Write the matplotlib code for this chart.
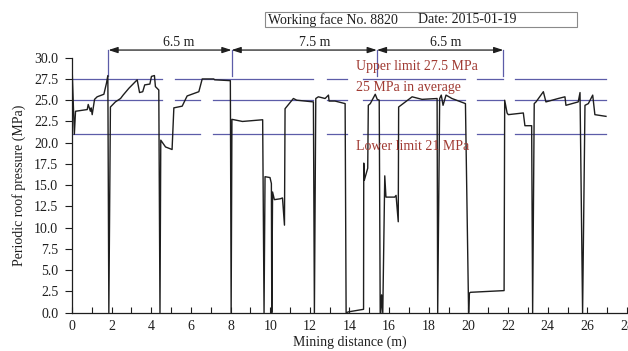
import matplotlib
matplotlib.use("Agg")
import matplotlib.pyplot as plt
from matplotlib.patches import Rectangle

plt.rcParams['font.family'] = ['Liberation Serif', 'DejaVu Serif']
plt.rcParams['font.size'] = 10

# periodic roof pressure trace
distance = [0.01, 0.12, 0.18, 0.77, 0.82, 0.93, 0.97, 1.02, 1.14, 1.27, 1.61, 1.74, 1.81, 1.86,
            1.94, 2.19, 2.45, 2.58, 2.87, 3.29, 3.41, 3.57, 3.67, 3.93, 4.01, 4.16, 4.21, 4.38, 4.44,
            4.48, 4.72, 5.05, 5.14, 5.56, 5.81, 6.40, 6.57, 7.15, 7.20, 7.99, 8.03,
            8.07, 8.60, 9.62, 9.69, 9.74, 9.99, 10.06, 10.08, 10.12, 10.21, 10.50, 10.62, 10.72,
            10.75, 11.17, 11.34, 12.18, 12.23, 12.30, 12.43, 12.77, 12.94, 12.97, 13.27, 13.78, 13.83,
            13.95, 14.71, 14.72, 14.75, 14.92, 14.95, 15.05, 15.30, 15.40, 15.50, 15.55,
            15.58, 15.62, 15.68, 15.78, 15.84, 16.28, 16.35, 16.46, 16.48, 17.16, 17.66, 18.42, 18.45,
            18.55, 18.63, 18.72, 18.87, 19.17, 19.85, 20.01, 20.05, 20.10, 21.80, 21.83,
            21.95, 22.01, 22.77, 22.85, 23.19, 23.24, 23.32, 23.41, 23.78, 23.91, 24.53, 24.87,
            24.92, 25.54, 25.63, 25.76, 25.88, 26.05, 26.27, 26.38, 26.94]
pressure = [28.5, 21.0, 23.7, 23.9, 24.5, 23.7, 24.1, 23.3, 25.1, 25.4, 25.7, 27.0, 27.9, 0.0,
            24.2, 24.8, 25.2, 25.6, 26.4, 27.4, 25.9, 26.0, 26.8, 26.9, 27.8, 27.9, 26.6, 26.2, 0.0,
            20.3, 19.5, 19.2, 24.1, 24.3, 25.5, 26.0, 27.5, 27.5, 27.4, 27.3, 0.0,
            22.75, 22.5, 22.7, 0.0, 16.0, 15.9, 15.2, 0.0, 14.2, 13.3, 13.4, 13.5, 10.3,
            24.0, 25.2, 25.0, 24.8, 0.0, 25.2, 25.4, 25.2, 25.6, 24.9, 24.9, 24.6, 0.0,
            0.1, 0.4, 17.6, 15.6, 17.0, 24.4, 24.6, 25.7, 25.1, 25.0, 0.0,
            0.0, 2.1, 0.0, 16.1, 13.6, 13.6, 13.8, 10.7, 24.2, 25.4, 25.1, 25.2, 0.0,
            25.2, 25.6, 24.4, 25.6, 25.2, 24.6, 0.0, 2.3, 2.4, 2.6, 25.0,
            23.5, 23.3, 23.5, 22.0, 22.0, 0.0, 24.6, 24.8, 26.0, 24.8, 25.2, 25.4,
            24.4, 24.8, 25.9, 0.0, 24.4, 24.6, 25.6, 23.3, 23.1]

# reference levels (MPa) and the stretches where each dashed line is drawn
upper_limit = 27.5
average = 25.0
lower_limit = 21.0
upper_spans = [(0.0, 4.55), (5.2, 12.16), (12.87, 13.9), (14.69, 19.83), (20.43, 21.75), (22.35, 26.94)]
average_spans = [(0.0, 4.55), (5.2, 6.46), (7.12, 12.16), (12.87, 13.9), (14.69, 19.83),
                 (20.43, 21.75), (22.35, 26.94)]
lower_spans = [(0.0, 6.46), (7.12, 12.16), (12.87, 13.9), (14.69, 19.83), (20.43, 21.75), (22.35, 26.94)]

# periodic weighting steps
step_edges = [1.84, 8.05, 15.38, 21.76]
step_labels = ['6.5 m', '7.5 m', '6.5 m']
step_label_x = [5.36, 12.26, 18.87]

blue = '#5c5ca8'
red = '#a03a32'
ink = '#1e1e1e'

fig = plt.figure(figsize=(6.28, 3.51), dpi=100)
ax = fig.add_axes([0.1146, 0.1091, 0.8838, 0.7265])

for level, spans in [(upper_limit, upper_spans), (average, average_spans), (lower_limit, lower_spans)]:
    for x0, x1 in spans:
        ax.plot([x0, x1], [level, level], color=blue, lw=0.9, zorder=1)

ax.plot(distance, pressure, color=ink, lw=1.0, zorder=3)

# step brackets above the plot
arrow_y = 30.9
for x in step_edges:
    ax.plot([x, x], [27.85, arrow_y], color=blue, lw=0.9, clip_on=False, zorder=2)
for i in range(len(step_labels)):
    ax.annotate('', xy=(step_edges[i + 1], arrow_y), xytext=(step_edges[i], arrow_y),
                annotation_clip=False,
                arrowprops=dict(arrowstyle='<|-|>,head_length=0.55,head_width=0.18',
                                color=ink, lw=0.9, shrinkA=0, shrinkB=0, mutation_scale=10))
    ax.text(step_label_x[i], 31.75, step_labels[i], ha='center', va='center', color=ink, clip_on=False)

ax.text(14.35, 29.0, 'Upper limit 27.5 MPa', color=red, va='center', ha='left', clip_on=False)
ax.text(14.35, 26.55, '25 MPa in average', color=red, va='center', ha='left')
ax.text(14.35, 19.5, 'Lower limit 21 MPa', color=red, va='center', ha='left')

# header box
fig.patches.append(Rectangle((0.422, 0.923), 0.497, 0.043, transform=fig.transFigure,
                             fill=False, edgecolor='#8a8a8a', lw=0.8))
fig.text(0.427, 0.944, 'Working face No. 8820', va='center', ha='left', color=ink)
fig.text(0.666, 0.944, 'Date: 2015-01-19', va='center', ha='left', color=ink)

ax.set_xlim(0, 28)
ax.set_ylim(0, 30)
ax.set_xticks(range(0, 29, 2))
ax.set_xticks(range(1, 28, 2), minor=True)
ax.set_yticks([i * 2.5 for i in range(13)])
ax.set_yticklabels([f'{i * 2.5:.1f}' for i in range(13)])
ax.tick_params(axis='x', which='both', direction='in', length=4.3, width=0.8, pad=5, colors=ink)
ax.tick_params(axis='y', direction='out', length=4.8, width=0.8, pad=5, colors=ink)
for side in ['top', 'right']:
    ax.spines[side].set_visible(False)
for side in ['left', 'bottom']:
    ax.spines[side].set_color(ink)
    ax.spines[side].set_linewidth(0.9)

ax.set_xlabel('Mining distance (m)', labelpad=2, color=ink)
ax.set_ylabel('Periodic roof pressure (MPa)', labelpad=6, color=ink)

fig.savefig('out.png', dpi=100)
